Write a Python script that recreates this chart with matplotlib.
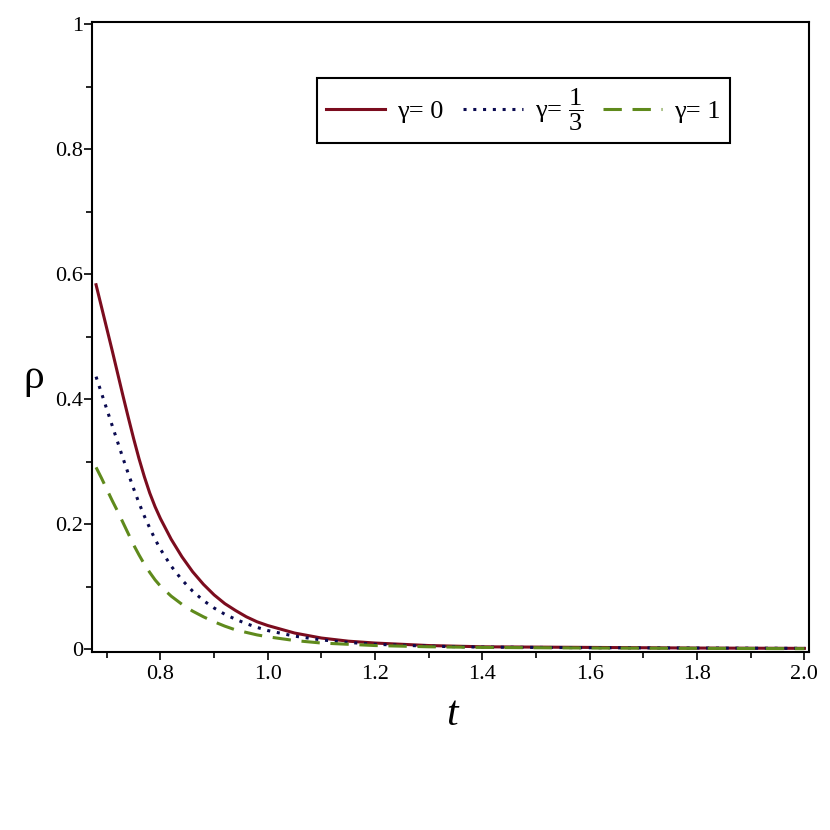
import numpy as np
import matplotlib
matplotlib.use('Agg')
import matplotlib.pyplot as plt
from matplotlib.ticker import MultipleLocator

plt.rcParams['font.family'] = ['Liberation Serif', 'DejaVu Serif']
plt.rcParams['mathtext.fontset'] = 'custom'
plt.rcParams['mathtext.rm'] = 'Liberation Serif'
plt.rcParams['mathtext.it'] = 'Liberation Serif:italic'

# values
t = [0.68, 0.69, 0.70, 0.71, 0.72, 0.73, 0.74, 0.75, 0.76, 0.77, 0.78, 0.79,
     0.80, 0.82, 0.84, 0.86, 0.88, 0.90, 0.92, 0.94, 0.96, 0.98, 1.00,
     1.05, 1.10, 1.15, 1.20, 1.30, 1.40, 1.60, 1.80, 2.00]
rho_g0 = [0.583, 0.548, 0.513, 0.478, 0.442, 0.406, 0.371, 0.337, 0.305, 0.276, 0.250, 0.228,
          0.209, 0.176, 0.148, 0.124, 0.104, 0.087, 0.073, 0.062, 0.052, 0.044, 0.038,
          0.026, 0.018, 0.013, 0.010, 0.006, 0.004, 0.003, 0.002, 0.0015]
rho_g13 = [0.436, 0.410, 0.384, 0.358, 0.332, 0.306, 0.281, 0.257, 0.234, 0.213, 0.194, 0.176,
           0.160, 0.133, 0.111, 0.093, 0.078, 0.066, 0.056, 0.048, 0.041, 0.035, 0.030,
           0.021, 0.015, 0.011, 0.008, 0.005, 0.0035, 0.0025, 0.002, 0.0015]
rho_g1 = [0.291, 0.274, 0.256, 0.238, 0.221, 0.203, 0.185, 0.167, 0.151, 0.136, 0.123, 0.111,
          0.101, 0.085, 0.072, 0.061, 0.052, 0.044, 0.037, 0.031, 0.027, 0.023, 0.020,
          0.014, 0.010, 0.008, 0.006, 0.004, 0.003, 0.002, 0.0015, 0.001]
labels = ['γ= 0', r'γ= $\dfrac{1}{3}$', 'γ= 1']

fig = plt.figure(figsize=(8.3, 8.3), dpi=100)
ax = fig.add_axes([0.1112, 0.2141, 0.975 - 0.1112, 0.9739 - 0.2141])

ax.plot(t, rho_g0, color='#7B0C1E', lw=2.2, label=labels[0])
ax.plot(t, rho_g13, color='#0A0A50', lw=2.2, linestyle=(0, (1, 2.2)), label=labels[1])
ax.plot(t, rho_g1, color='#5F8A1C', lw=2.2, linestyle=(0, (6, 3.5)), label=labels[2])

ax.set_xlim(0.673, 2.009)
ax.set_ylim(-0.0048, 1.0037)

ax.xaxis.set_major_locator(MultipleLocator(0.2))
ax.xaxis.set_minor_locator(MultipleLocator(0.1))
ax.yaxis.set_major_locator(MultipleLocator(0.2))
ax.yaxis.set_minor_locator(MultipleLocator(0.1))
ax.xaxis.set_major_formatter(plt.FuncFormatter(lambda v, p: '%.1f' % v))
ax.yaxis.set_major_formatter(plt.FuncFormatter(lambda v, p: '0' if abs(v) < 1e-9 else ('1' if abs(v - 1) < 1e-9 else ('%.1f' % v))))

ax.tick_params(which='both', direction='out', width=1.2, labelsize=16)
ax.tick_params(which='major', length=6)
ax.tick_params(which='minor', length=4.5)
ax.tick_params(axis='y', pad=0.5)
ax.tick_params(axis='x', pad=3)
for s in ax.spines.values():
    s.set_linewidth(1.5)

ax.set_ylabel('ρ', rotation=0, fontsize=30, va='center', ha='center')
ax.yaxis.set_label_coords(-0.082, 0.435)
ax.set_xlabel('t', fontsize=30, style='italic', va='center', ha='center')
ax.xaxis.set_label_coords(0.502, -0.099)

leg = ax.legend(loc='upper left', bbox_to_anchor=(0.313, 0.911), ncol=3,
                fontsize=19, handlelength=2.25, handletextpad=0.45,
                columnspacing=0.75, borderaxespad=0, fancybox=False,
                framealpha=1, edgecolor='black', borderpad=0.35)
leg.get_frame().set_linewidth(1.5)

fig.savefig('out.png', dpi=100, facecolor='white')
